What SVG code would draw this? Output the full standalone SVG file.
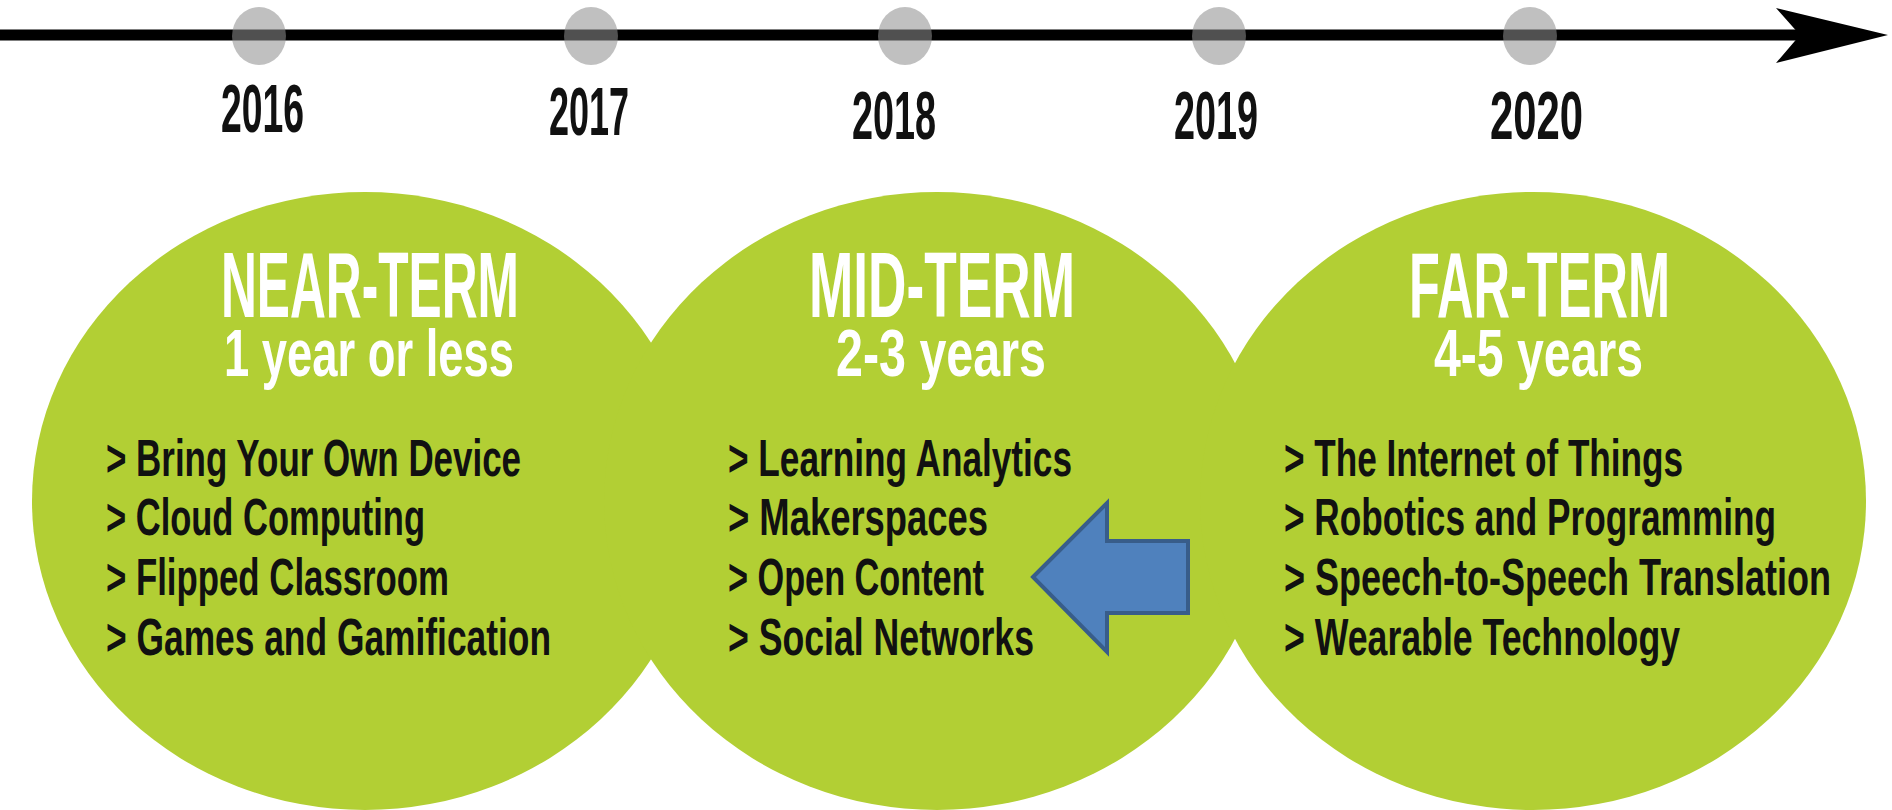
<svg xmlns="http://www.w3.org/2000/svg" width="1892" height="810" viewBox="0 0 1892 810">
  <style>
    .bg { fill: #ffffff; }
    .term { fill: #b2cf34; }
    .dot { fill: #8e8e8e; fill-opacity: 0.56; }
    .year { font-family: "Liberation Sans", Arial, sans-serif; font-weight: bold; font-size: 68px; fill: #111111; }
    .title { font-family: "Liberation Sans", Arial, sans-serif; font-weight: bold; font-size: 92px; fill: #ffffff; }
    .sub { font-family: "Liberation Sans", Arial, sans-serif; font-weight: bold; font-size: 66px; fill: #ffffff; }
    .item { font-family: "Liberation Sans", Arial, sans-serif; font-weight: bold; font-size: 52px; fill: #111111; }
    .axis { stroke: #000000; stroke-width: 11; fill: none; }
    .axishead { fill: #000000; }
    .pointer { fill: #4f81bd; stroke: #385d8a; stroke-width: 4; stroke-linejoin: miter; }
  </style>
  <rect class="bg" x="0" y="0" width="1892" height="810"/>

  <g id="connectors">
    <line class="axis" x1="0" y1="35" x2="1805" y2="35"/>
    <polygon class="axishead" points="1776,8 1888,35 1776,63 1800,35"/>
  </g>

  <g id="year-2016">
    <ellipse class="dot" cx="259" cy="36" rx="27" ry="29"/>
    <text class="year" x="221" y="132" textLength="83" lengthAdjust="spacingAndGlyphs">2016</text>
  </g>
  <g id="year-2017">
    <ellipse class="dot" cx="591" cy="36" rx="27" ry="29"/>
    <text class="year" x="549" y="135" textLength="80" lengthAdjust="spacingAndGlyphs">2017</text>
  </g>
  <g id="year-2018">
    <ellipse class="dot" cx="905" cy="36" rx="27" ry="29"/>
    <text class="year" x="852" y="139" textLength="84" lengthAdjust="spacingAndGlyphs">2018</text>
  </g>
  <g id="year-2019">
    <ellipse class="dot" cx="1219" cy="36" rx="27" ry="29"/>
    <text class="year" x="1174" y="139" textLength="84" lengthAdjust="spacingAndGlyphs">2019</text>
  </g>
  <g id="year-2020">
    <ellipse class="dot" cx="1530" cy="36" rx="27" ry="29"/>
    <text class="year" x="1490" y="139" textLength="93" lengthAdjust="spacingAndGlyphs">2020</text>
  </g>

  <g id="term-shapes">
    <ellipse class="term" cx="365" cy="501" rx="333" ry="309"/>
    <ellipse class="term" cx="937" cy="501" rx="333" ry="309"/>
    <ellipse class="term" cx="1533" cy="501" rx="333" ry="309"/>
  </g>

  <g id="near-term">
    <text class="title" x="221" y="317" textLength="298" lengthAdjust="spacingAndGlyphs">NEAR-TERM</text>
    <text class="sub" x="224" y="376" textLength="290" lengthAdjust="spacingAndGlyphs">1 year or less</text>
    <text class="item" x="106" y="476" textLength="415" lengthAdjust="spacingAndGlyphs">&gt; Bring Your Own Device</text>
    <text class="item" x="106" y="535" textLength="319" lengthAdjust="spacingAndGlyphs">&gt; Cloud Computing</text>
    <text class="item" x="106" y="595" textLength="343" lengthAdjust="spacingAndGlyphs">&gt; Flipped Classroom</text>
    <text class="item" x="106" y="655" textLength="445" lengthAdjust="spacingAndGlyphs">&gt; Games and Gamification</text>
  </g>

  <g id="mid-term">
    <text class="title" x="809" y="317" textLength="266" lengthAdjust="spacingAndGlyphs">MID-TERM</text>
    <text class="sub" x="836" y="376" textLength="210" lengthAdjust="spacingAndGlyphs">2-3 years</text>
    <text class="item" x="728" y="476" textLength="344" lengthAdjust="spacingAndGlyphs">&gt; Learning Analytics</text>
    <text class="item" x="728" y="535" textLength="260" lengthAdjust="spacingAndGlyphs">&gt; Makerspaces</text>
    <text class="item" x="728" y="595" textLength="256" lengthAdjust="spacingAndGlyphs">&gt; Open Content</text>
    <text class="item" x="728" y="655" textLength="306" lengthAdjust="spacingAndGlyphs">&gt; Social Networks</text>
  </g>

  <g id="far-term">
    <text class="title" x="1409" y="317" textLength="261" lengthAdjust="spacingAndGlyphs">FAR-TERM</text>
    <text class="sub" x="1434" y="376" textLength="209" lengthAdjust="spacingAndGlyphs">4-5 years</text>
    <text class="item" x="1284" y="476" textLength="399" lengthAdjust="spacingAndGlyphs">&gt; The Internet of Things</text>
    <text class="item" x="1284" y="535" textLength="492" lengthAdjust="spacingAndGlyphs">&gt; Robotics and Programming</text>
    <text class="item" x="1284" y="595" textLength="547" lengthAdjust="spacingAndGlyphs">&gt; Speech-to-Speech Translation</text>
    <text class="item" x="1284" y="655" textLength="396" lengthAdjust="spacingAndGlyphs">&gt; Wearable Technology</text>
  </g>

  <g id="pointer-arrow">
    <polygon class="pointer" points="1033,577 1107,503 1107,541 1188,541 1188,613 1107,613 1107,652"/>
  </g>
</svg>
